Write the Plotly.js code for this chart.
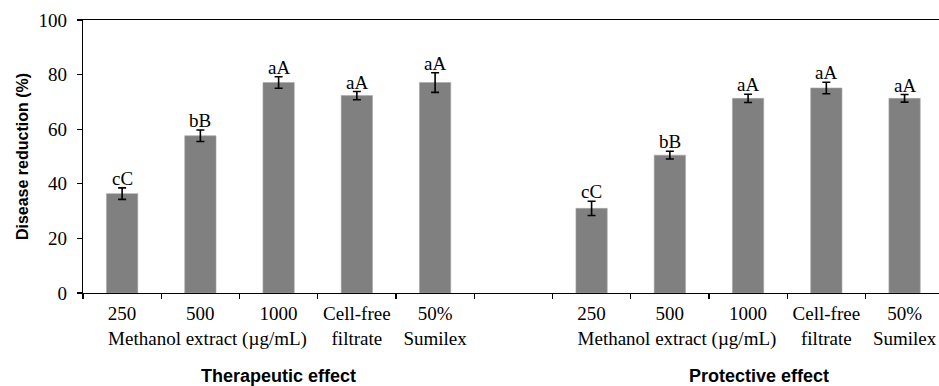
<!DOCTYPE html>
<html>
<head>
<meta charset="utf-8">
<script src="https://cdn.plot.ly/plotly-3.0.1.min.js"></script>
<style>
html,body{margin:0;padding:0;background:#fff;overflow:hidden;}
#chart{width:939px;height:386px;}
</style>
</head>
<body>
<div id="chart"></div>
<script>
// Categories (unique keys) and their displayed tick labels
var categories = ['T250','T500','T1000','TCFF','TSUM','GAP','P250','P500','P1000','PCFF','PSUM'];
var tickLabels = ['250','500<br>\u00a0\u00a0\u00a0Methanol extract (\u00b5g/mL)','1000','Cell-free<br>filtrate','50%<br>Sumilex','',
                  '250','500<br>\u00a0\u00a0\u00a0Methanol extract (\u00b5g/mL)','1000','Cell-free<br>filtrate','50%<br>Sumilex'];
// Therapeutic effect
var therapeuticValues = [36.4, 57.6, 77.1, 72.3, 77.1];
var therapeuticErrors = [2.1, 2.1, 2.1, 1.5, 3.6];
var therapeuticLetters = ['cC','bB','aA','aA','aA'];
// Protective effect
var protectiveValues = [31.0, 50.5, 71.3, 75.1, 71.3];
var protectiveErrors = [2.6, 1.4, 1.5, 2.1, 1.4];
var protectiveLetters = ['cC','bB','aA','aA','aA'];
var groupTitles = ['Therapeutic effect','Protective effect'];

var yVals = therapeuticValues.concat([null], protectiveValues);
var eVals = therapeuticErrors.concat([null], protectiveErrors);
var letters = therapeuticLetters.concat([''], protectiveLetters);

var serif = 'Liberation Serif, Times New Roman, serif';
var sans = 'Liberation Sans, Arial, sans-serif';

var trace = {
  type: 'bar',
  x: categories,
  y: yVals,
  width: 0.4,
  marker: {color: '#808080', line: {color: '#a6a6a6', width: 0.6}},
  error_y: {type: 'data', array: eVals, visible: true, color: '#000', thickness: 1.6, width: 4},
  hoverinfo: 'none'
};

var annotations = [];
for (var i = 0; i < categories.length; i++) {
  if (yVals[i] === null) continue;
  annotations.push({
    x: categories[i], y: yVals[i] + eVals[i], xref: 'x', yref: 'y',
    text: letters[i], showarrow: false, yanchor: 'bottom', yshift: -3,
    font: {family: serif, size: 19, color: '#000'}
  });
}
annotations.push({
  x: 2, xref: 'x', y: -0.305, yref: 'paper', text: groupTitles[0], showarrow: false,
  yanchor: 'middle', font: {family: sans, size: 18, color: '#000', weight: 'bold'}
});
annotations.push({
  x: 8.14, xref: 'x', y: -0.305, yref: 'paper', text: groupTitles[1], showarrow: false,
  yanchor: 'middle', font: {family: sans, size: 18, color: '#000', weight: 'bold'}
});

var layout = {
  width: 939, height: 386,
  margin: {l: 83, r: 0, t: 20, b: 93, pad: 0},
  paper_bgcolor: '#fff', plot_bgcolor: '#fff',
  showlegend: false,
  xaxis: {
    type: 'category',
    range: [-0.5, 10.44],
    tickmode: 'array', tickvals: categories, ticktext: tickLabels,
    tickson: 'boundaries',
    ticks: 'outside', ticklen: 5, tickcolor: '#000', tickwidth: 1.2,
    showline: true, linecolor: '#000', linewidth: 1.3, mirror: true,
    showgrid: false, zeroline: false,
    tickangle: 0,
    ticklabelstandoff: 3,
    tickfont: {family: serif, size: 19, color: '#000'}
  },
  yaxis: {
    range: [0, 100], tickvals: [0,20,40,60,80,100],
    ticks: 'outside', ticklen: 5, tickcolor: '#000', tickwidth: 1.2,
    showline: true, linecolor: '#000', linewidth: 1.3, mirror: false,
    showgrid: false, zeroline: false,
    ticklabelstandoff: 6,
    tickfont: {family: serif, size: 19, color: '#000'},
    title: {text: 'Disease reduction (%)', standoff: 5,
            font: {family: sans, size: 16, color: '#000', weight: 'bold'}}
  },
  annotations: annotations
};

Plotly.newPlot('chart', [trace], layout, {displayModeBar: false, staticPlot: true});
</script>
</body>
</html>
